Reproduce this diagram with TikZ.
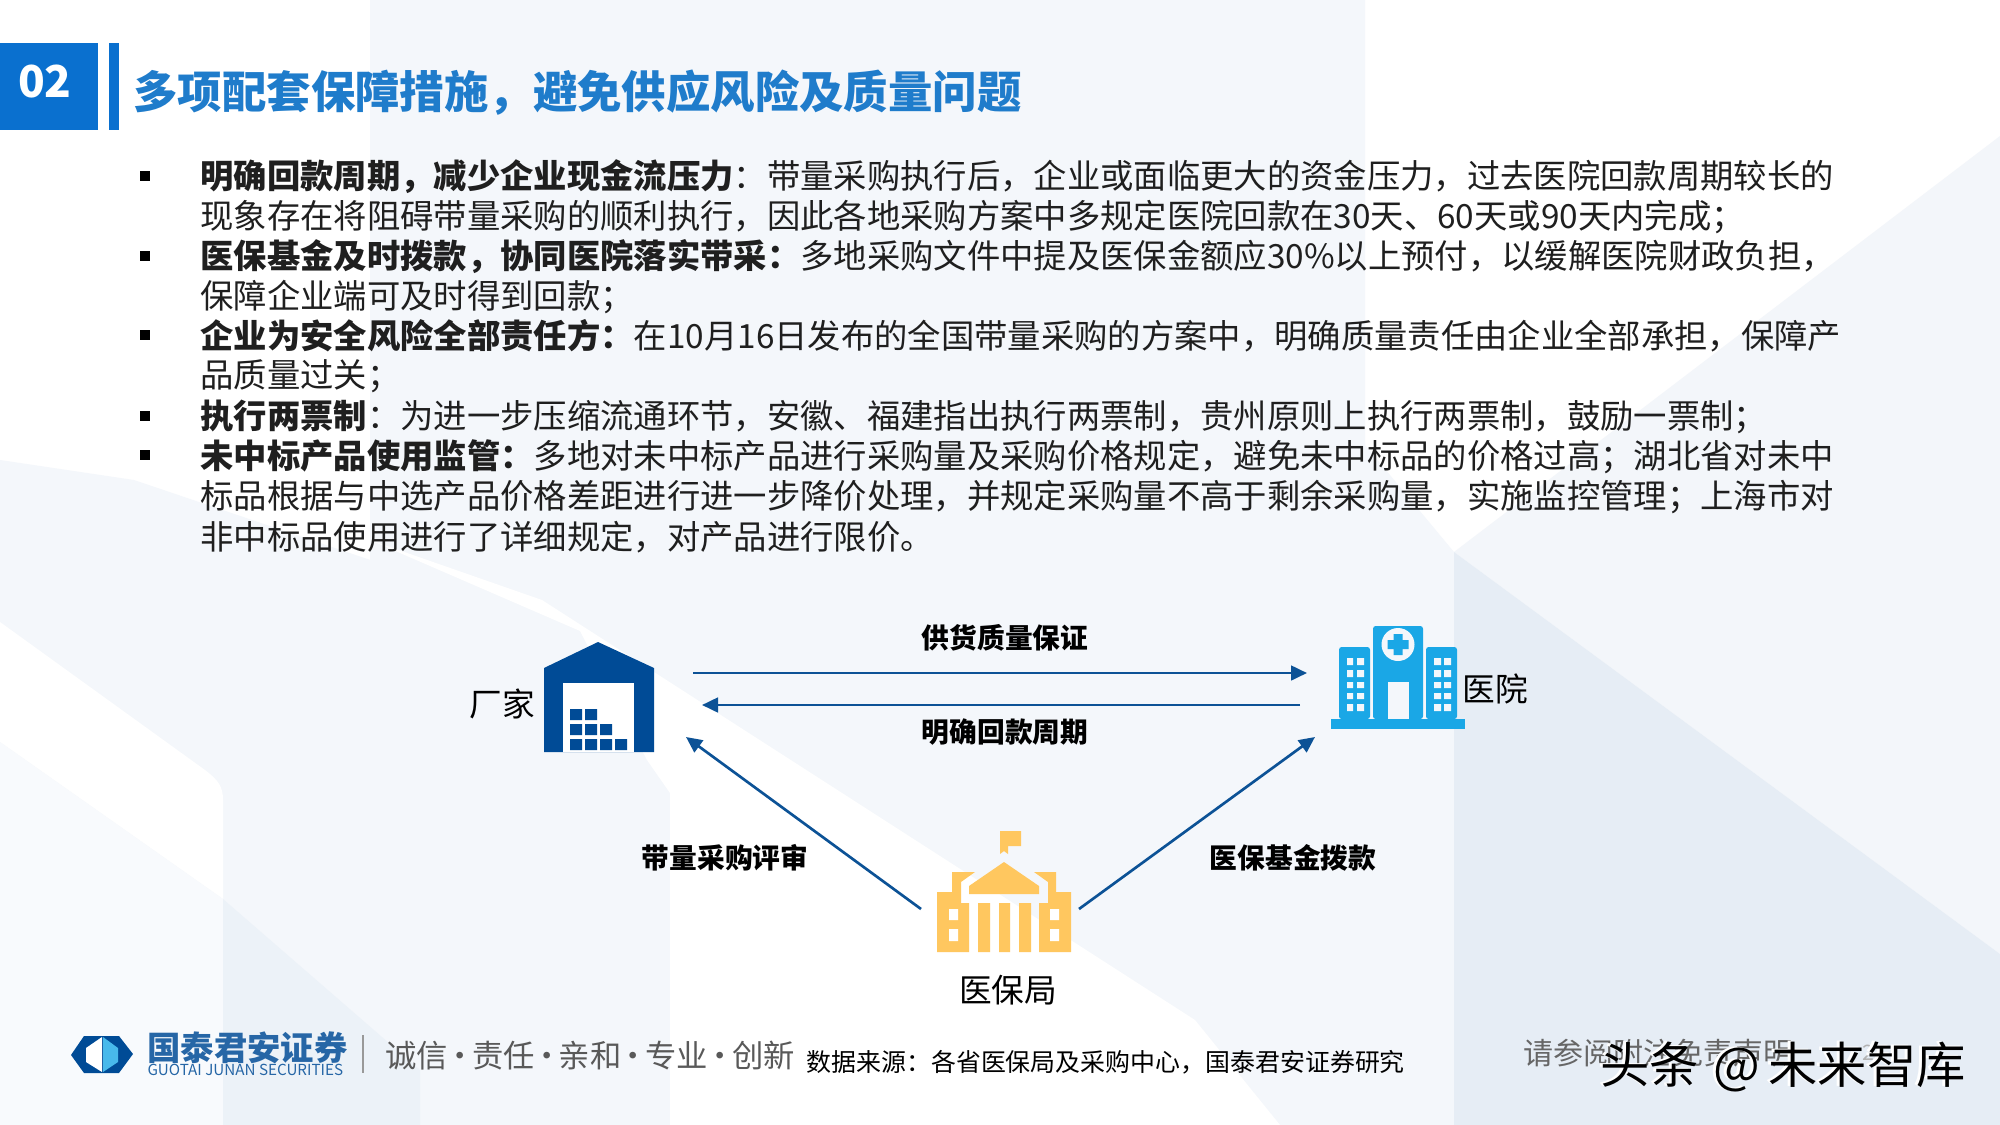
\documentclass[tikz,border=0pt]{standalone}
\usepackage{fontspec}
\setmainfont{Noto Sans CJK SC}
\usetikzlibrary{arrows.meta}

\definecolor{titleblue}{RGB}{31,124,203}
\definecolor{boxblue}{RGB}{10,112,207}
\definecolor{navyblue}{RGB}{0,75,150}
\definecolor{arrowblue}{RGB}{12,82,150}
\definecolor{hospblue}{RGB}{26,167,230}
\definecolor{bankyellow}{RGB}{255,199,95}
\definecolor{bandblue}{RGB}{236,242,248}
\definecolor{paleblue}{RGB}{244,247,251}
\definecolor{softblue}{RGB}{248,250,253}
\definecolor{sideblue}{RGB}{230,237,245}
\definecolor{wedgeblue}{RGB}{243,246,250}

\tikzset{
  every picture/.style={line width=0.75pt},
  bodyline/.style={anchor=west,inner sep=0pt,font=\fontsize{25}{25}\selectfont,text=black!88},
  flowlabel/.style={inner sep=0pt,font=\fontsize{20.8}{20.8}\selectfont\bfseries},
  iconlabel/.style={inner sep=0pt,font=\fontsize{24.5}{24.5}\selectfont},
  flowarrow/.style={draw=arrowblue,line width=2pt,-{Triangle[length=12pt,width=11pt]}},
  bulletmark/.style={fill=black,minimum size=7pt,inner sep=0pt},
  markfont/.style={anchor=west,inner sep=0pt,font=\fontsize{37}{37}\selectfont},
}

\newcommand{\mottodot}{\makebox[18pt]{·}}
\newcommand{\marktext}{头条\hspace{11pt}@\hspace{6pt}未来智库}

\begin{document}
\begin{tikzpicture}[x=0.75pt,y=0.75pt,yscale=-1,xscale=1]
\useasboundingbox (0,0) rectangle (2000,1125);

%Background
\fill [white] (0,0) rectangle (2000,1125);
\fill [paleblue] (370,0) -- (1365,0) -- (1365,445) -- (1454,552) -- (1454,1125) -- (370,1125) -- cycle;
\fill [wedgeblue] (1454,552) -- (2000,136) -- (2000,954) -- cycle;
\fill [sideblue] (1454,552) -- (2000,954) -- (2000,1125) -- (1454,1125) -- cycle;
\fill [paleblue] (0,460) -- (134,480) -- (580,631) -- (647,760) -- (670,793) -- (670,1125) -- (0,1125) -- cycle;
\fill [white] (0,622) -- (205,770) .. controls (218,780) and (223,786) .. (223,800) -- (223,899) -- (0,742) -- cycle;
\fill [softblue] (0,742) -- (223,899) -- (223,1125) -- (0,1125) -- cycle;
\fill [bandblue] (223,899) -- (420,1070) -- (420,1125) -- (223,1125) -- cycle;
\fill [white] (370,540) -- (542,600) -- (1195,1020) -- (1280,1125) -- (670,1125) -- (670,793) -- (647,760) -- (580,631) -- cycle;

%Header
\fill [boxblue] (0,43) rectangle (98,130);
\fill [boxblue] (109,43) rectangle (119,130);
\node (secno) at (45,82) [inner sep=0pt,text=white,font=\fontsize{33}{33}\selectfont\bfseries] {02};
\node (title) at (133,93) [anchor=west,inner sep=0pt,text=titleblue,font=\fontsize{33.3}{33.3}\selectfont\bfseries] {多项配套保障措施，避免供应风险及质量问题};

%Bullets
\node (bulleta) at (145,176) [bulletmark] {};
\node (bulletb) at (145,256) [bulletmark] {};
\node (bulletc) at (145,335) [bulletmark] {};
\node (bulletd) at (145,416) [bulletmark] {};
\node (bullete) at (145,455) [bulletmark] {};

% Text Node
\node (linea) at (200,177) [bodyline] {\textbf{明确回款周期，减少企业现金流压力}：带量采购执行后，企业或面临更大的资金压力，过去医院回款周期较长的};
\node (lineb) at (200,217) [bodyline] {现象存在将阻碍带量采购的顺利执行，因此各地采购方案中多规定医院回款在30天、60天或90天内完成；};
\node (linec) at (200,257) [bodyline] {\textbf{医保基金及时拨款，协同医院落实带采：}多地采购文件中提及医保金额应30\%以上预付，以缓解医院财政负担，};
\node (lined) at (200,297) [bodyline] {保障企业端可及时得到回款；};
\node (linee) at (200,336) [bodyline] {\textbf{企业为安全风险全部责任方：}在10月16日发布的全国带量采购的方案中，明确质量责任由企业全部承担，保障产};
\node (linef) at (200,376) [bodyline] {品质量过关；};
\node (lineg) at (200,417) [bodyline] {\textbf{执行两票制}：为进一步压缩流通环节，安徽、福建指出执行两票制，贵州原则上执行两票制，鼓励一票制；};
\node (lineh) at (200,457) [bodyline] {\textbf{未中标产品使用监管：}多地对未中标产品进行采购量及采购价格规定，避免未中标品的价格过高；湖北省对未中};
\node (linei) at (200,497) [bodyline] {标品根据与中选产品价格差距进行进一步降价处理，并规定采购量不高于剩余采购量，实施监控管理；上海市对};
\node (linej) at (200,537) [bodyline] {非中标品使用进行了详细规定，对产品进行限价。};

%Factory icon
\fill [navyblue] (598,642) -- (654,668) -- (654,752) -- (544,752) -- (544,668) -- cycle;
\fill [white] (563,683) rectangle (634,752);
\fill [navyblue] (570,709) rectangle (582,720) (585,709) rectangle (597,720);
\fill [navyblue] (570,724) rectangle (582,735) (585,724) rectangle (597,735) (600,724) rectangle (612,735);
\fill [navyblue] (570,739) rectangle (582,750) (585,739) rectangle (597,750) (600,739) rectangle (612,750) (615,739) rectangle (627,750);

%Hospital icon
\fill [hospblue, rounded corners=2pt] (1373,719) -- (1373,626) -- (1423,626) -- (1423,719) -- cycle;
\fill [hospblue, rounded corners=2pt] (1339,719) -- (1339,647) -- (1370,647) -- (1370,719) -- cycle;
\fill [hospblue, rounded corners=2pt] (1426,719) -- (1426,647) -- (1457,647) -- (1457,719) -- cycle;
\fill [hospblue] (1331,719) rectangle (1465,729);
\fill [paleblue] (1398,644.5) circle [radius=16.5];
\fill [hospblue] (1393.5,634) rectangle (1402.5,655) (1387.5,640) rectangle (1408.5,649);
\fill [paleblue] (1388,682) rectangle (1409,719);
\fill [paleblue] (1347,658) rectangle (1353,665) (1357,658) rectangle (1364,665) (1434,658) rectangle (1441,665) (1444,658) rectangle (1451,665);
\fill [paleblue] (1347,670) rectangle (1353,677) (1357,670) rectangle (1364,677) (1434,670) rectangle (1441,677) (1444,670) rectangle (1451,677);
\fill [paleblue] (1347,682) rectangle (1353,688) (1357,682) rectangle (1364,688) (1434,682) rectangle (1441,688) (1444,682) rectangle (1451,688);
\fill [paleblue] (1347,693) rectangle (1353,699) (1357,693) rectangle (1364,699) (1434,693) rectangle (1441,699) (1444,693) rectangle (1451,699);
\fill [paleblue] (1347,704) rectangle (1353,711) (1357,704) rectangle (1364,711) (1434,704) rectangle (1441,711) (1444,704) rectangle (1451,711);

%Bureau icon
\fill [bankyellow] (1000,831) -- (1021,831) -- (1021,846) -- (1008,846) -- (1008,854) -- (1004,851) -- (1000,854) -- cycle;
\fill [bankyellow] (1004,862) -- (1039,886) -- (1039,894) -- (969,894) -- (969,886) -- cycle;
\fill [bankyellow] (952,872) -- (975,872) -- (961,882) -- (961,903) -- (969,903) -- (969,952) -- (937,952) -- (937,892) -- (952,892) -- cycle;
\fill [bankyellow] (1056,872) -- (1034,872) -- (1048,882) -- (1048,903) -- (1039,903) -- (1039,952) -- (1071,952) -- (1071,892) -- (1056,892) -- cycle;
\fill [bankyellow] (978,903) rectangle (990,952) (999,903) rectangle (1010,952) (1019,903) rectangle (1031,952);
\fill [white] (949,909) rectangle (958,920) (949,929) rectangle (958,941) (1050,909) rectangle (1059,920) (1050,929) rectangle (1059,941);

% Text Node
\node (factory) at (502,704) [iconlabel] {厂家};
\node (hospital) at (1495,689) [iconlabel] {医院};
\node (bureau) at (1008,990) [iconlabel] {医保局};
\node (supply) at (1005,638) [flowlabel] {供货质量保证};
\node (payment) at (1005,732) [flowlabel] {明确回款周期};
\node (review) at (725,858) [flowlabel] {带量采购评审};
\node (funding) at (1293,858) [flowlabel] {医保基金拨款};

%Straight Lines
\coordinate (factoryout) at (693,673);
\coordinate (hospitalin) at (1307,673);
\coordinate (hospitalout) at (1300,705);
\coordinate (factoryin) at (702,705);
\coordinate (bureauleft) at (921,909);
\coordinate (factorylow) at (686,737);
\coordinate (bureauright) at (1079,909);
\coordinate (hospitallow) at (1315,737);
\draw [flowarrow] (factoryout) -- (hospitalin);
\draw [flowarrow] (hospitalout) -- (factoryin);
\draw [flowarrow] (bureauleft) -- (factorylow);
\draw [flowarrow] (bureauright) -- (hospitallow);

%Footer logo
\fill [navyblue] (84,1036) -- (119,1036) -- (133,1054) -- (119,1073) -- (84,1073) -- (71,1055) -- cycle;
\fill [white] (102,1037) -- (86,1048) -- (86,1062) -- (102,1072) -- cycle;
\fill [hospblue!80] (103,1037) -- (118,1048) -- (118,1062) -- (103,1072) -- cycle;
\node (brand) at (147,1047.5) [anchor=west,inner sep=0pt,text=navyblue!85,font=\fontsize{25}{25}\selectfont\bfseries] {国泰君安证券};
\node (brandeng) at (147,1069.5) [anchor=west,inner sep=0pt,text=navyblue!85,font=\fontsize{11.4}{11.4}\selectfont] {GUOTAI JUNAN SECURITIES};
\draw [black!40, line width=1pt] (363,1035) -- (363,1073);
\node (motto) at (385,1056) [anchor=west,inner sep=0pt,text=black!65,font=\fontsize{23.5}{23.5}\selectfont] {诚信\mottodot 责任\mottodot 亲和\mottodot 专业\mottodot 创新};
\node (source) at (806,1062) [anchor=west,inner sep=0pt,font=\fontsize{18.7}{18.7}\selectfont] {数据来源：各省医保局及采购中心，国泰君安证券研究};
\node (notice) at (1523,1053) [anchor=west,inner sep=0pt,text=black!60,font=\fontsize{22.5}{22.5}\selectfont] {请参阅附注免责声明};
\node (pageno) at (1868,1053) [inner sep=0pt,text=black!30,font=\fontsize{16}{16}\selectfont] {2};
\node (markshadow) at (1597,1066) [markfont,text=white] {\marktext};
\node (mark) at (1600,1067) [markfont,text=black] {\marktext};

\end{tikzpicture}
\end{document}
